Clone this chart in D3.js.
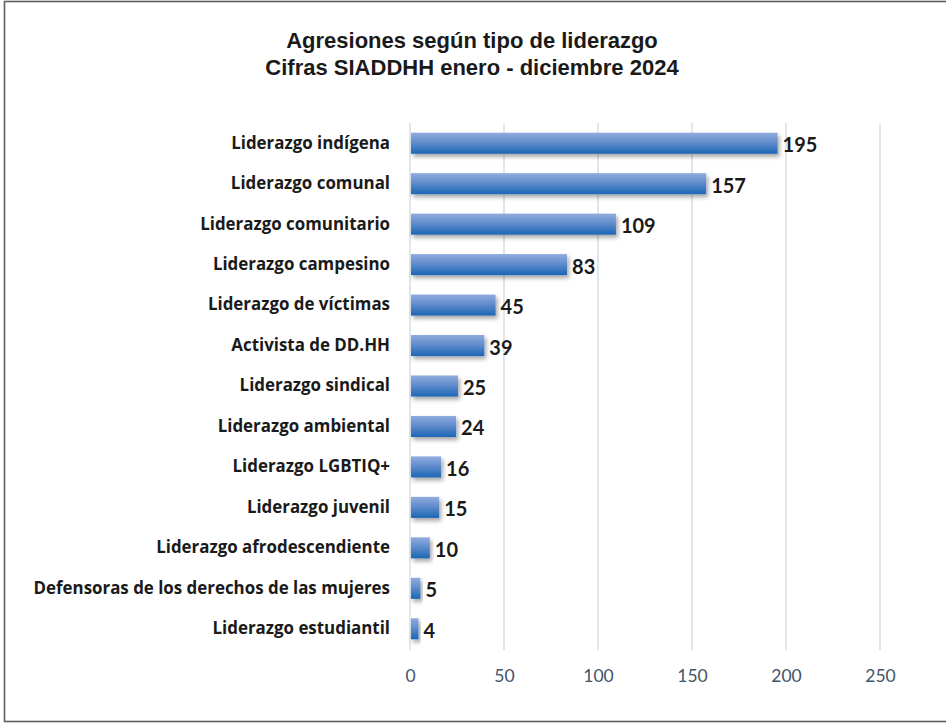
<!DOCTYPE html>
<html>
<head>
<meta charset="utf-8">
<script src="https://cdn.jsdelivr.net/npm/d3@7"></script>
<style>
  body { margin: 0; background: #fff; }
</style>
</head>
<body>
<script>
const categories = [
  "Liderazgo indígena",
  "Liderazgo comunal",
  "Liderazgo comunitario",
  "Liderazgo campesino",
  "Liderazgo de víctimas",
  "Activista de DD.HH",
  "Liderazgo sindical",
  "Liderazgo ambiental",
  "Liderazgo LGBTIQ+",
  "Liderazgo juvenil",
  "Liderazgo afrodescendiente",
  "Defensoras de los derechos de las mujeres",
  "Liderazgo estudiantil"
];
const values = [195, 157, 109, 83, 45, 39, 25, 24, 16, 15, 10, 5, 4];
const xTicks = [0, 50, 100, 150, 200, 250];
const titleLines = ["Agresiones según tipo de liderazgo", "Cifras SIADDHH enero - diciembre 2024"];

const width = 946, height = 724;
const margin = {top: 123, right: 66, bottom: 74, left: 410};

const data = categories.map((c, i) => ({name: c, value: values[i]}));

const svg = d3.select("body").append("svg")
    .attr("width", width)
    .attr("height", height);

const defs = svg.append("defs");
const grad = defs.append("linearGradient")
    .attr("id", "barGrad")
    .attr("x1", 0).attr("y1", 0).attr("x2", 0).attr("y2", 1);
grad.append("stop").attr("offset", "0%").attr("stop-color", "#90acde");
grad.append("stop").attr("offset", "45%").attr("stop-color", "#628dcc");
grad.append("stop").attr("offset", "100%").attr("stop-color", "#1b66b6");

const shadow = defs.append("filter").attr("id", "shadow")
    .attr("x", "-20%").attr("y", "-30%").attr("width", "140%").attr("height", "190%");
shadow.append("feDropShadow")
    .attr("dx", 2).attr("dy", 3).attr("stdDeviation", 2)
    .attr("flood-color", "#000").attr("flood-opacity", 0.35);

// outer frame
svg.append("rect")
    .attr("x", 4.5).attr("y", 1.5)
    .attr("width", width + 10).attr("height", 720)
    .attr("fill", "none")
    .attr("stroke", "#5f5f5f")
    .attr("stroke-width", 1.6);

const x = d3.scaleLinear()
    .domain([0, 250])
    .range([margin.left, width - margin.right]);

const y = d3.scaleBand()
    .domain(categories)
    .range([margin.top, height - margin.bottom - 1])
    .paddingInner(0.48)
    .paddingOuter(0.24);

// gridlines
svg.append("g")
    .selectAll("line")
    .data(xTicks)
    .join("line")
    .attr("x1", d => x(d))
    .attr("x2", d => x(d))
    .attr("y1", margin.top)
    .attr("y2", height - margin.bottom)
    .attr("stroke", "#d5dfe7")
    .attr("stroke-width", 1.5);

// x axis
const xAxis = g => g
    .attr("transform", `translate(0,${height - margin.bottom + 20})`)
    .call(d3.axisBottom(x).tickValues(xTicks).tickSize(0).tickPadding(0))
    .call(g => g.select(".domain").remove())
    .call(g => g.selectAll("text")
        .attr("fill", "#44546a")
        .attr("font-family", "Lato, sans-serif")
        .attr("font-size", 17.5));

svg.append("g").call(xAxis);

// y labels
const yAxis = g => g
    .attr("transform", `translate(${margin.left - 20},0)`)
    .call(d3.axisLeft(y).tickSize(0).tickPadding(0))
    .call(g => g.select(".domain").remove())
    .call(g => g.selectAll("text")
        .attr("fill", "#1a1a1a")
        .attr("font-family", "'Open Sans', sans-serif")
        .attr("font-weight", "bold")
        .attr("font-size", 16.9));

svg.append("g").call(yAxis);

// bars
svg.append("g")
    .selectAll("rect")
    .data(data)
    .join("rect")
    .attr("x", x(0) + 1)
    .attr("y", d => y(d.name))
    .attr("width", d => x(d.value) - x(0))
    .attr("height", y.bandwidth())
    .attr("fill", "url(#barGrad)")
    .attr("filter", "url(#shadow)");

// value labels
svg.append("g")
    .selectAll("text")
    .data(data)
    .join("text")
    .attr("x", d => x(d.value) + 6)
    .attr("y", d => y(d.name) + y.bandwidth() / 2 + 2)
    .attr("dy", "0.35em")
    .attr("fill", "#1a1a1a")
    .attr("font-family", "Lato, sans-serif")
    .attr("font-weight", "bold")
    .attr("font-size", 20)
    .text(d => d.value);

// title
svg.append("g")
    .selectAll("text")
    .data(titleLines)
    .join("text")
    .attr("x", 472)
    .attr("y", (d, i) => 48 + i * 27)
    .attr("text-anchor", "middle")
    .attr("fill", "#1a1a1a")
    .attr("font-family", "'Liberation Sans', Arial, sans-serif")
    .attr("font-weight", "bold")
    .attr("font-size", 22)
    .text(d => d);
</script>
</body>
</html>
